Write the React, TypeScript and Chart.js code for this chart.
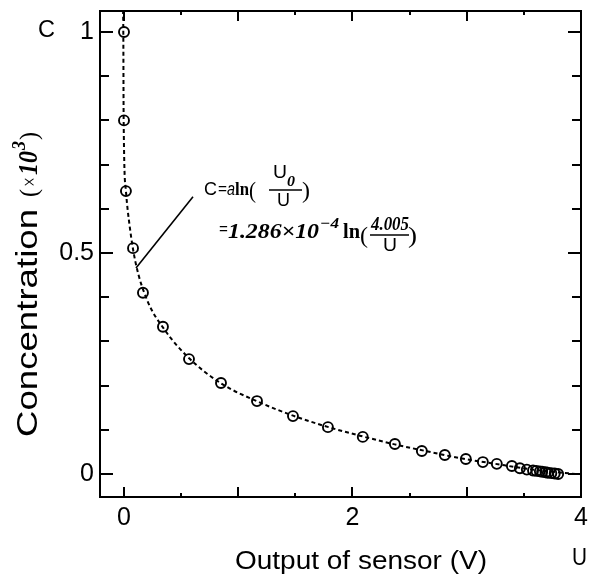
import React, { useEffect, useRef } from "react";
import { Chart, registerables } from "chart.js";

Chart.register(...registerables);

// ---- data ----
const sensorOutput = [0, 0, 0.017, 0.079, 0.166, 0.341, 0.569, 0.849, 1.164, 1.479, 1.785, 2.09, 2.371, 2.607, 2.808, 2.992, 3.141, 3.263, 3.395, 3.465, 3.526, 3.58, 3.61, 3.64, 3.66, 3.69, 3.71, 3.74, 3.77, 3.8];
const concentration = [1.0, 0.8, 0.64, 0.511, 0.41, 0.333, 0.26, 0.206, 0.165, 0.131, 0.106, 0.084, 0.068, 0.052, 0.043, 0.034, 0.027, 0.023, 0.018, 0.013, 0.01, 0.008, 0.007, 0.006, 0.005, 0.004, 0.003, 0.002, 0.001, 0.0];

const fitOutput = [-0.008, -0.006, -0.003, 0.017, 0.05, 0.1, 0.2, 0.345, 0.57, 0.85, 1.17, 1.48, 1.79, 2.09, 2.37, 2.64, 2.94, 3.25, 3.55, 3.95];
const fitConcentration = [1.05, 1.0, 0.8, 0.64, 0.56, 0.48, 0.395, 0.33, 0.262, 0.205, 0.164, 0.132, 0.106, 0.085, 0.067, 0.052, 0.036, 0.023, 0.011, 0.0];

const xTickValues = [0, 0.5, 1, 1.5, 2, 2.5, 3, 3.5, 4];
const xTickLabels = ["0", "", "", "", "2", "", "", "", "4"];
const yTickValues = [0, 0.1, 0.2, 0.3, 0.4, 0.5, 0.6, 0.7, 0.8, 0.9, 1.0];
const yTickLabels = ["0", "", "", "", "", "0.5", "", "", "", "", "1"];

const leaderStart = [0.105, 0.466];
const leaderEnd = [0.604, 0.627];

const xTitle = "Output of sensor (V)";
const yTitle = "Concentration";
const xUnitLetter = "U";
const yUnitLetter = "C";

const SANS = '"Liberation Sans", Arial, Helvetica, sans-serif';
const SERIF = '"Liberation Serif", "Times New Roman", Times, serif';

function put(ctx: CanvasRenderingContext2D, s: string, x: number, y: number, font: string, width?: number) {
  ctx.save();
  ctx.font = font;
  ctx.textAlign = "left";
  ctx.textBaseline = "alphabetic";
  ctx.fillStyle = "#000";
  ctx.translate(x, y);
  if (width) {
    const m = ctx.measureText(s).width;
    if (m > 0) ctx.scale(width / m, 1);
  }
  ctx.fillText(s, 0, 0);
  ctx.restore();
}

function seg(ctx: CanvasRenderingContext2D, x1: number, y1: number, x2: number, y2: number) {
  ctx.beginPath();
  ctx.moveTo(x1, y1);
  ctx.lineTo(x2, y2);
  ctx.stroke();
}

const framePlugin = {
  id: "frameAndNotes",
  beforeDraw(chart: any) {
    const ctx = chart.ctx as CanvasRenderingContext2D;
    ctx.save();
    ctx.fillStyle = "#fff";
    ctx.fillRect(0, 0, chart.width, chart.height);
    ctx.restore();
  },
  afterDraw(chart: any) {
    const ctx = chart.ctx as CanvasRenderingContext2D;
    const a = chart.chartArea;
    const xs = chart.scales.x;
    const ys = chart.scales.y;
    ctx.save();
    ctx.strokeStyle = "#000";
    ctx.lineWidth = 2;
    ctx.lineCap = "butt";
    ctx.strokeRect(a.left, a.top, a.right - a.left, a.bottom - a.top);

    yTickValues.forEach((v, i) => {
      const p = Math.round(ys.getPixelForValue(v));
      const len = yTickLabels[i] ? 13 : 9;
      seg(ctx, a.left, p, a.left + len, p);
      seg(ctx, a.right, p, a.right - len, p);
    });
    xTickValues.forEach((v) => {
      if (v >= xs.max) return;
      const p = Math.round(xs.getPixelForValue(v));
      const len = Number.isInteger(v) ? 10 : 4;
      seg(ctx, p, a.bottom, p, a.bottom - len);
      seg(ctx, p, a.top, p, a.top + len);
    });

    // leader line to the curve
    ctx.lineWidth = 1.6;
    seg(
      ctx,
      xs.getPixelForValue(leaderStart[0]),
      ys.getPixelForValue(leaderStart[1]),
      xs.getPixelForValue(leaderEnd[0]),
      ys.getPixelForValue(leaderEnd[1])
    );

    // formula line 1: C = a ln(U0/U)
    put(ctx, "C", 204, 195, `18px ${SANS}`, 13);
    put(ctx, "=", 218, 194, `17px ${SANS}`, 9);
    put(ctx, "a", 227, 195, `italic 18px ${SANS}`, 8);
    put(ctx, "ln", 235, 195, `bold 19px ${SERIF}`, 14);
    put(ctx, "(", 249, 198, `24px ${SERIF}`, 7);
    put(ctx, "U", 273, 178, `18px ${SANS}`, 14);
    put(ctx, "0", 287, 186, `bold italic 14px ${SERIF}`, 8);
    ctx.lineWidth = 1.5;
    seg(ctx, 269, 190, 302, 190);
    put(ctx, "U", 277, 206, `18px ${SANS}`, 13);
    put(ctx, ")", 302, 198, `24px ${SERIF}`, 8);

    // formula line 2
    put(ctx, "=", 219, 235, `bold 19px ${SERIF}`, 9);
    put(ctx, "1.286\u00d710", 228, 238, `bold italic 20px ${SERIF}`, 91);
    put(ctx, "\u22124", 320, 228, `bold italic 15px ${SERIF}`, 19);
    put(ctx, "ln", 343, 238, `bold 20px ${SERIF}`, 17);
    put(ctx, "(", 360, 243, `24px ${SERIF}`, 8);
    put(ctx, "4.005", 371, 230, `bold italic 18px ${SERIF}`, 38);
    seg(ctx, 370, 235, 409, 235);
    put(ctx, "U", 383, 251, `18px ${SANS}`, 14);
    put(ctx, ")", 408, 243, `24px ${SERIF}`, 9);

    // axis titles
    put(ctx, xTitle, 235, 569, `25px ${SANS}`, 252);
    put(ctx, xUnitLetter, 572, 565, `23px ${SANS}`, 15);
    put(ctx, yUnitLetter, 38, 37, `24px ${SANS}`, 17);

    ctx.save();
    ctx.translate(37, 437);
    ctx.rotate(-Math.PI / 2);
    put(ctx, yTitle, 0, 0, `30px ${SANS}`, 228);
    put(ctx, "(", 240, 0, `26px ${SERIF}`, 8);
    put(ctx, "\u00d7", 250, 0, `24px ${SERIF}`, 10);
    put(ctx, "10", 262, 0, `bold italic 28px ${SERIF}`, 24);
    put(ctx, "3", 287, -12, `bold italic 18px ${SERIF}`, 9);
    put(ctx, ")", 297, 0, `26px ${SERIF}`, 8);
    ctx.restore();

    ctx.restore();
  },
};

export default function App() {
  const ref = useRef<HTMLCanvasElement | null>(null);

  useEffect(() => {
    if (!ref.current) return;
    const points = sensorOutput.map((u, i) => ({ x: u, y: concentration[i] }));
    const fit = fitOutput.map((u, i) => ({ x: u, y: fitConcentration[i] }));

    const chart = new Chart(ref.current, {
      type: "scatter",
      data: {
        datasets: [
          {
            label: "fit",
            data: fit,
            showLine: true,
            borderColor: "#000",
            borderWidth: 2,
            borderDash: [4, 3],
            pointRadius: 0,
            cubicInterpolationMode: "monotone",
            fill: false,
          } as any,
          {
            label: "measured",
            data: points,
            showLine: false,
            pointRadius: 5,
            pointBorderWidth: 1.9,
            pointBorderColor: "#000",
            pointBackgroundColor: "rgba(0,0,0,0)",
          },
        ],
      },
      options: {
        animation: false,
        responsive: false,
        devicePixelRatio: 1,
        layout: { padding: { left: 0, right: 9, top: 11, bottom: 0 } },
        plugins: { legend: { display: false }, tooltip: { enabled: false } },
        events: [],
        scales: {
          x: {
            type: "linear",
            min: -0.21,
            max: 4,
            grid: { display: false, drawTicks: false },
            border: { display: false },
            afterBuildTicks: (scale: any) => {
              scale.ticks = xTickValues.map((v) => ({ value: v }));
            },
            afterFit: (scale: any) => {
              scale.height = 80;
              scale.paddingLeft = 0;
              scale.paddingRight = 0;
            },
            ticks: {
              autoSkip: false,
              maxRotation: 0,
              padding: 6,
              color: "#000",
              font: { family: SANS, size: 25 },
              callback: (v: any) => {
                const i = xTickValues.indexOf(Number(v));
                return i >= 0 ? xTickLabels[i] : "";
              },
            },
          },
          y: {
            type: "linear",
            min: -0.052,
            max: 1.0475,
            grid: { display: false, drawTicks: false },
            border: { display: false },
            afterBuildTicks: (scale: any) => {
              scale.ticks = yTickValues.map((v) => ({ value: v }));
            },
            afterFit: (scale: any) => {
              scale.width = 100;
              scale.paddingTop = 0;
              scale.paddingBottom = 0;
            },
            ticks: {
              autoSkip: false,
              padding: 6,
              color: "#000",
              font: { family: SANS, size: 25 },
              callback: (v: any) => {
                const i = yTickValues.findIndex((t) => Math.abs(t - Number(v)) < 1e-9);
                return i >= 0 ? yTickLabels[i] : "";
              },
            },
          },
        },
      },
      plugins: [framePlugin],
    });
    return () => chart.destroy();
  }, []);

  return (
    <div style={{ position: "absolute", left: 0, top: 0, width: 590, height: 577, background: "#fff" }}>
      <canvas ref={ref} width={590} height={577} style={{ display: "block", width: 590, height: 577 }} />
    </div>
  );
}
